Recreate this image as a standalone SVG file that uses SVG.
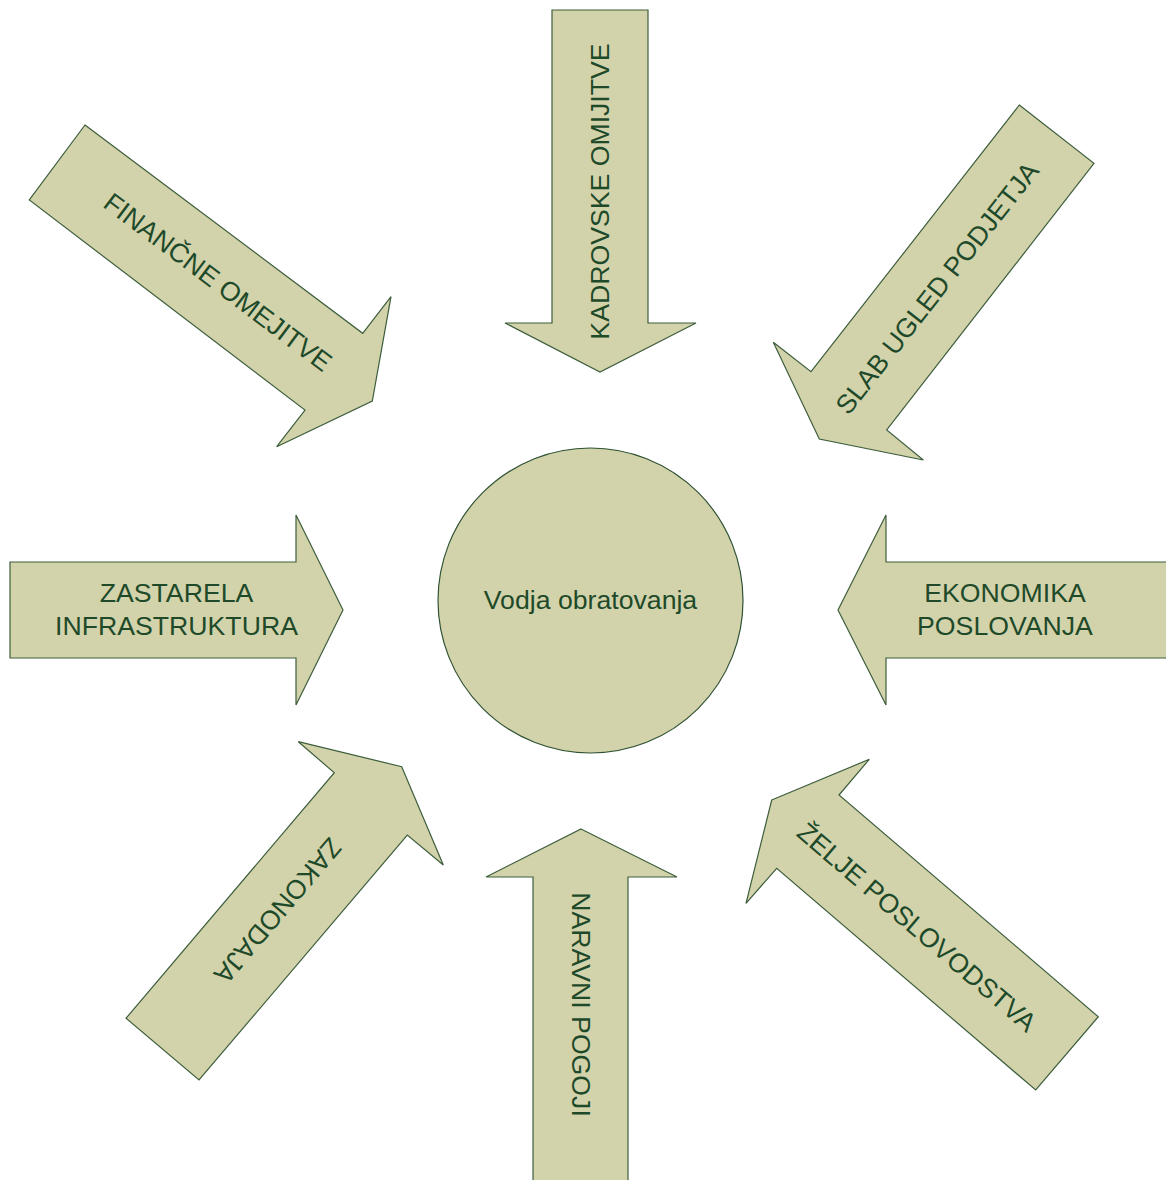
<svg xmlns="http://www.w3.org/2000/svg" width="1166" height="1180" viewBox="0 0 1166 1180">
  <style>
    .arrow { fill: #d3d3ab; stroke: #3d5e3d; stroke-width: 1.2; stroke-linejoin: miter; }
    .hub { fill: #d3d3ab; stroke: #2f5233; stroke-width: 1.2; }
    .lbl { font-family: "Liberation Sans", Arial, sans-serif; font-size: 26.67px; fill: #1e4a2a; text-anchor: middle; }
  </style>
  <rect width="1166" height="1180" fill="#ffffff"/>

  <!-- Centre node -->
  <g id="vodja">
    <circle class="hub" cx="590.5" cy="600.5" r="152.5"/>
    <text class="lbl" x="590.5" y="609">Vodja obratovanja</text>
  </g>

  <!-- Influence arrows pointing at the centre -->
  <g id="connectors">
    <g id="kadrovske">
      <polygon class="arrow" points="552,10 648,10 648,323 696,323 600,372 505,323 552,323"/>
      <text class="lbl" transform="translate(600,191.5) rotate(-90)" dy="0.35em">KADROVSKE OMIJITVE</text>
    </g>

    <g id="financne">
      <polygon class="arrow" points="85,125 362.7,333.3 391,296.7 372.3,401 276.7,446.7 305,410 29.3,200"/>
      <text class="lbl" transform="translate(218,282) rotate(37)" dy="0.35em">FINANČNE OMEJITVE</text>
    </g>

    <g id="ugled">
      <polygon class="arrow" points="1019.3,105 1094,163.3 886.7,430 923.3,460 819.3,439 773.3,342.3 811,371.7"/>
      <text class="lbl" transform="translate(937,288) rotate(-52)" dy="0.35em">SLAB UGLED PODJETJA</text>
    </g>

    <g id="infrastruktura">
      <polygon class="arrow" points="10,562 296,562 296,515 343,610 296,705 296,658 10,658"/>
      <text class="lbl" x="176.5" y="602">ZASTARELA</text>
      <text class="lbl" x="176.5" y="634.5">INFRASTRUKTURA</text>
    </g>

    <g id="ekonomika">
      <polygon class="arrow" points="1167,562 886,562 886,515 838,610 886,705 886,658 1167,658"/>
      <text class="lbl" x="1005" y="602">EKONOMIKA</text>
      <text class="lbl" x="1005" y="634.5">POSLOVANJA</text>
    </g>

    <g id="zakonodaja">
      <polygon class="arrow" points="298.3,741.7 401.7,766.7 443.3,865 407.3,835 199,1080 126,1018.3 334.3,772.7"/>
      <text class="lbl" transform="translate(278,911) rotate(130.3)" dy="0.35em">ZAKONODAJA</text>
    </g>

    <g id="naravni">
      <polygon class="arrow" points="581,829 677,877 628,877 628,1181 533,1181 533,877 486,877"/>
      <text class="lbl" transform="translate(581,1004.5) rotate(90)" dy="0.35em">NARAVNI POGOJI</text>
    </g>

    <g id="zelje">
      <polygon class="arrow" points="771.7,800 869.3,759.3 839,795 1098.3,1016.7 1035.7,1090 776.7,868.3 746,903.3"/>
      <text class="lbl" transform="translate(917,927) rotate(40.6)" dy="0.35em">ŽELJE POSLOVODSTVA</text>
    </g>
  </g>
</svg>
